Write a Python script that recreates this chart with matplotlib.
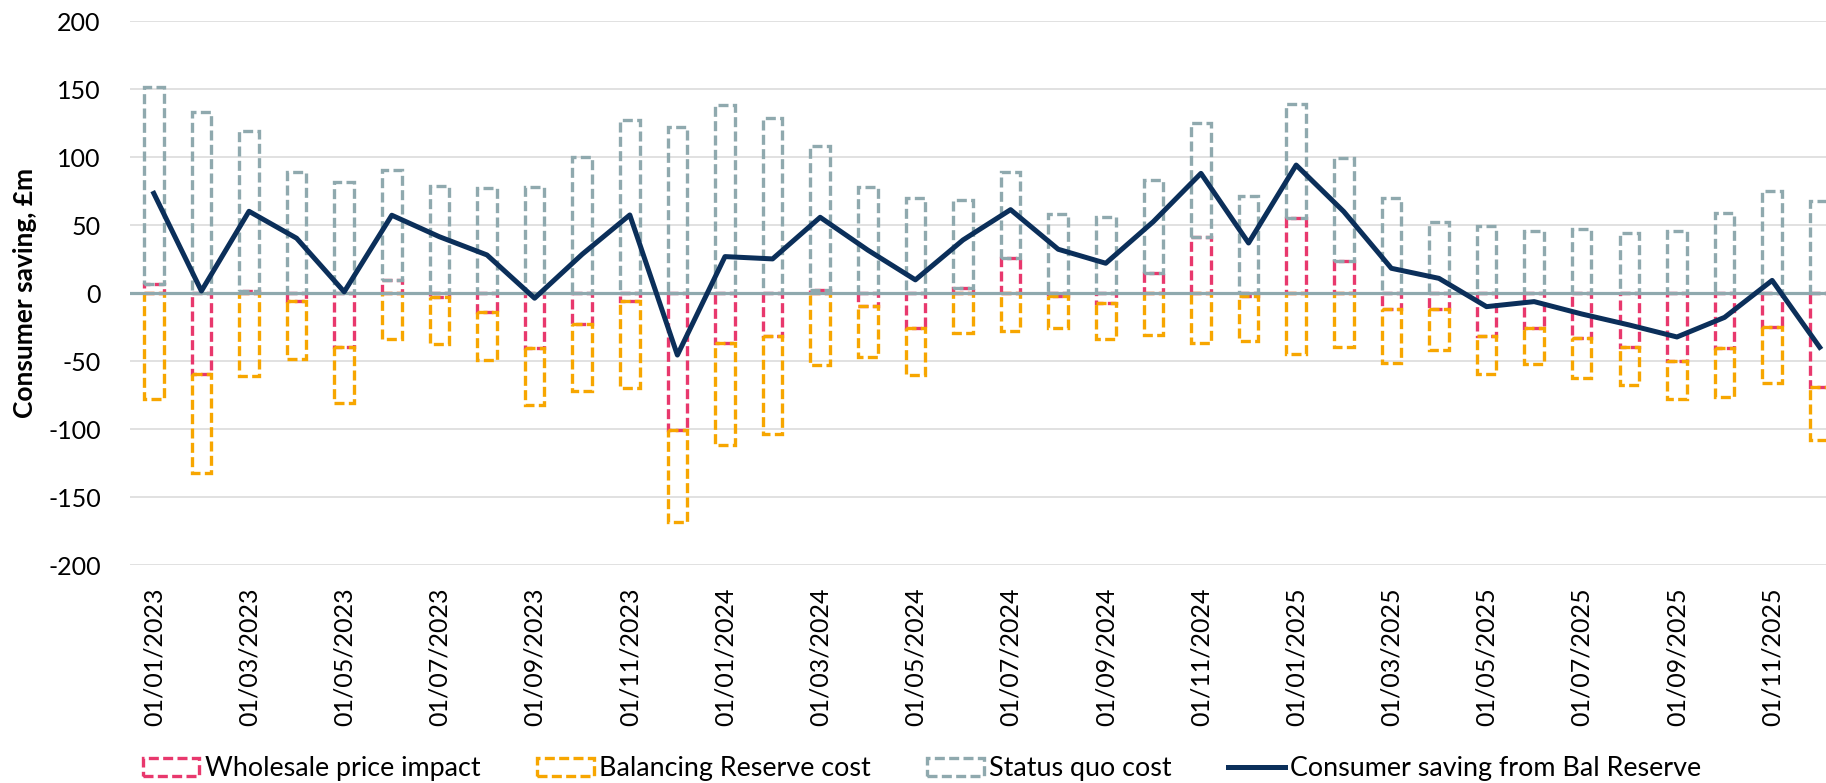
import numpy as np
import pandas as pd
from matplotlib import pyplot as plt

plt.rcParams['font.family'] = ['Lato', 'DejaVu Sans']
plt.rcParams['axes.unicode_minus'] = False

# monthly categories Jan 2023 - Dec 2025
months = pd.date_range('2023-01-01', periods=36, freq='MS')
month_labels = [d.strftime('%d/%m/%Y') for d in months]

# values, £m
wholesale = [6.9, -59.6, 1.5, -5.4, -39.7, 9.8, -2.9, -14.0, -40.4, -22.8,
             -5.4, -100.5, -36.3, -31.4, 2.5, -9.3, -25.7, 4.2, 25.7, -2.0,
             -6.9, 15.2, 41.7, -2.0, 55.6, 23.8, -11.8, -11.8, -31.4, -25.7,
             -33.1, -39.7, -49.5, -40.4, -24.5, -68.6]
balancing = [-78.0, -72.3, -60.8, -43.1, -41.2, -33.3, -34.4, -35.0, -41.6, -49.0,
             -64.5, -67.4, -75.2, -72.0, -52.7, -37.3, -34.3, -29.4, -27.5, -23.7,
             -26.9, -30.6, -36.8, -32.8, -44.9, -39.7, -39.7, -29.9, -27.9, -26.2,
             -29.4, -27.7, -28.4, -36.1, -41.2, -39.2]
status_quo = [144.6, 133.6, 118.1, 89.0, 82.0, 80.9, 78.9, 77.2, 78.4, 100.5,
              127.5, 122.5, 138.5, 128.7, 106.1, 78.4, 69.9, 64.4, 63.3, 58.1,
              55.9, 68.1, 83.3, 71.8, 83.6, 76.0, 69.9, 52.7, 49.5, 45.8,
              47.3, 44.1, 45.8, 58.8, 75.2, 68.1]
saving = [73.5, 1.7, 60.3, 40.5, 1.1, 57.4, 41.6, 28.2, -3.6, 28.7,
          57.6, -45.4, 27.0, 25.3, 55.9, 31.8, 9.9, 39.2, 61.5, 32.4,
          22.1, 52.7, 88.2, 37.0, 94.3, 60.1, 18.4, 11.0, -9.8, -6.1,
          -15.2, -23.3, -32.1, -17.7, 9.5, -39.7]

c_pink = '#e8386d'
c_orange = '#f7a600'
c_grey = '#8fa9ae'
c_navy = '#0b2f5a'

x = np.arange(len(months))
wholesale = np.array(wholesale)
balancing = np.array(balancing)
status_quo = np.array(status_quo)

fig = plt.figure(figsize=(18.26, 7.83), dpi=100)
# plot area runs past the right edge, as in the reference
ax = fig.add_axes([0.0712, 0.278, 0.9384, 0.6948])

dash = (0, (3.0, 1.3))
lw = 2.4
bw = 0.41
b1 = ax.bar(x, wholesale, bw, fill=False, edgecolor=c_pink, linestyle=dash,
            linewidth=lw, label='Wholesale price impact', zorder=2)
b2 = ax.bar(x, balancing, bw, bottom=np.minimum(wholesale, 0), fill=False,
            edgecolor=c_orange, linestyle=dash, linewidth=lw,
            label='Balancing Reserve cost', zorder=2)
b3 = ax.bar(x, status_quo, bw, bottom=np.maximum(wholesale, 0), fill=False,
            edgecolor=c_grey, linestyle=dash, linewidth=lw,
            label='Status quo cost', zorder=2)
ax.axhline(0, color=c_grey, lw=2.3, zorder=3)
ln, = ax.plot(x, saving, color=c_navy, lw=3.6, zorder=4,
              label='Consumer saving from Bal Reserve')

ax.set_ylim(-200, 200)
ax.set_yticks(np.arange(-200, 201, 50))
ax.set_xlim(-0.5, 35.5)
ax.set_xticks(x[::2])
ax.set_xticklabels(month_labels[::2], rotation=90)
ax.grid(axis='y', color='#d9d9d9', lw=1.1, zorder=0)
ax.set_axisbelow(True)
for s in ax.spines.values():
    s.set_visible(False)
ax.tick_params(axis='both', length=0, labelsize=18, colors='black')
ax.tick_params(axis='y', pad=21)
ax.tick_params(axis='x', pad=16)
ax.set_ylabel('Consumer saving, £m', fontsize=19, fontweight='bold')
ax.yaxis.set_label_coords(-0.0543, 0.5)

fig.legend(handles=[b1, b2, b3, ln], loc='center', bbox_to_anchor=(0.505, 0.018),
           ncol=4, frameon=False, fontsize=19.4, handlelength=2.1,
           handletextpad=0.2, columnspacing=2.1)

fig.savefig('out.png', dpi=100)
